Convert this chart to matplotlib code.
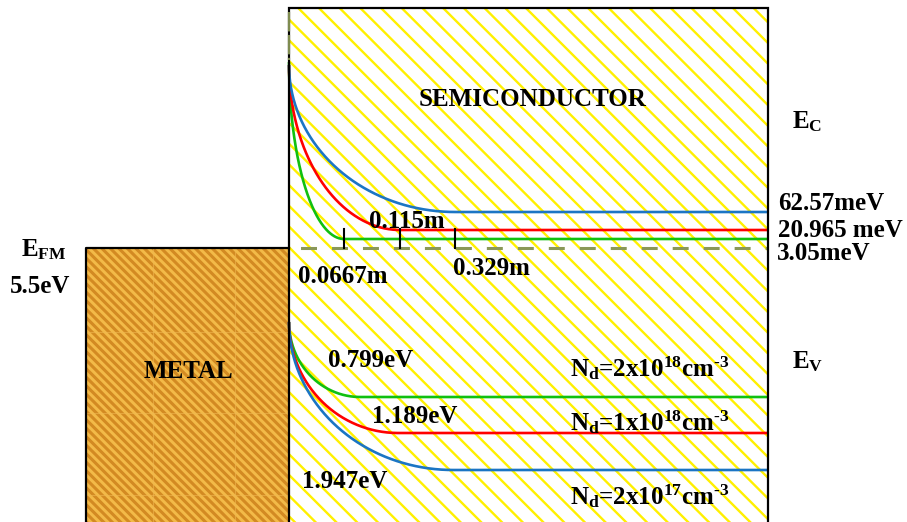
import numpy as np
import matplotlib
matplotlib.use("Agg")
import matplotlib.pyplot as plt
from matplotlib.patches import Rectangle
from matplotlib.collections import LineCollection

plt.rcParams['font.family'] = ['Liberation Serif', 'DejaVu Serif']
plt.rcParams['font.weight'] = 'bold'
plt.rcParams['mathtext.fontset'] = 'custom'
plt.rcParams['mathtext.rm'] = 'Liberation Serif:bold'
plt.rcParams['mathtext.it'] = 'Liberation Serif:bold'
plt.rcParams['mathtext.bf'] = 'Liberation Serif:bold'
plt.rcParams['lines.scale_dashes'] = False

# ---- layout of the schematic (diagram units, y grows downward) ----
interface_x = 289
semi_right = 768
semi_top = 8
metal_left = 86
fermi_level = 248          # E_FM of metal / Fermi level line

# ---- data: three doping levels ----
doping_labels = ['N$_{\\mathrm{d}}$=2x10$^{\\mathrm{18}}$cm$^{\\mathrm{\u20103}}$',
                 'N$_{\\mathrm{d}}$=1x10$^{\\mathrm{18}}$cm$^{\\mathrm{\u20103}}$',
                 'N$_{\\mathrm{d}}$=2x10$^{\\mathrm{17}}$cm$^{\\mathrm{\u20103}}$']
colors = ['#10C010', '#FF0000', '#1B75C4']
# conduction band edge
cb_top = [62, 65, 65]
cb_flat = [239, 230, 212]
cb_end = [344, 400, 455]
cb_offset_labels = ['3.05meV', '20.965 meV', '62.57meV']
# valence band edge
vb_top = [322, 322, 322]
vb_flat = [397, 433, 470]
vb_end = [360, 398, 453]
barrier_labels = ['0.799eV', '1.189eV', '1.947eV']
# depletion widths
width_labels = ['0.0667m', '0.115m', '0.329m']

fig = plt.figure(figsize=(9.07, 5.22), dpi=100)
ax = fig.add_axes([0, 0, 1, 1])
ax.set_xlim(0, 907)
ax.set_ylim(522, 0)
ax.axis('off')

# ---- semiconductor region ----
semi = Rectangle((interface_x, semi_top), semi_right - interface_x, 600,
                 facecolor='white', edgecolor='none', zorder=1)
ax.add_patch(semi)
cs = np.arange(-580 - 20.7 * 30, 600, 20.7)
segs = [[(interface_x, interface_x + c), (semi_right, semi_right + c)] for c in cs]
lc = LineCollection(segs, colors='#FFF000', linewidths=1.7, zorder=2)
ax.add_collection(lc)
lc.set_clip_path(semi)

# ---- metal region ----
metal = Rectangle((metal_left, fermi_level), interface_x - metal_left, 400,
                  facecolor='#F3BA48', edgecolor='none', zorder=1)
ax.add_patch(metal)
cm = np.arange(-100, 520, 8.5)
msegs = [[(metal_left, metal_left + c), (interface_x, interface_x + c)] for c in cm]
mlc = LineCollection(msegs, colors='#D38A22', linewidths=2.2, zorder=2)
ax.add_collection(mlc)
mlc.set_clip_path(metal)
for gx in [153, 235]:
    ax.plot([gx, gx], [fermi_level, 522], color='#F0B850', lw=0.8, alpha=0.6, zorder=2)
for gy in [332, 413, 495]:
    ax.plot([metal_left, interface_x], [gy, gy], color='#F0B850', lw=0.8, alpha=0.6, zorder=2)

# ---- borders ----
ax.plot([metal_left, metal_left, interface_x], [530, fermi_level, fermi_level],
        color='black', lw=1.6, zorder=6, solid_capstyle='projecting')
ax.plot([interface_x, interface_x, semi_right, semi_right],
        [530, semi_top, semi_top, 530], color='black', lw=1.6, zorder=6,
        solid_joinstyle='miter')
ax.plot([interface_x, interface_x], [semi_top + 4, 60], color='#7F8C50', lw=1.6,
        dashes=(14, 2.5), zorder=7)

# ---- Fermi level dashed line ----
ax.plot([interface_x, semi_right], [fermi_level, fermi_level], color='#8A9858',
        lw=2.2, linestyle=(14.0, (11.5, 10.8)), zorder=3)

# ---- band edges (quarter-ellipse bending then flat) ----
theta = np.linspace(0, np.pi / 2, 200)
for i in range(3):
    for top, flat, end in [(cb_top[i], cb_flat[i], cb_end[i]),
                           (vb_top[i], vb_flat[i], vb_end[i])]:
        w = end - interface_x
        xs = interface_x + w * (1 - np.cos(theta))
        ys = top + (flat - top) * np.sin(theta)
        xs = np.append(xs, semi_right)
        ys = np.append(ys, flat)
        ax.plot(xs, ys, color=colors[i], lw=1.9, zorder=4, solid_capstyle='butt')

# depletion-width ticks
for xe in cb_end:
    ax.plot([xe, xe], [229, fermi_level], color='black', lw=1.5, zorder=5)

fs = 18
kw = dict(fontsize=fs, fontweight='bold', color='black', zorder=8)
ax.text(533, 100, 'SEMICONDUCTOR', ha='center', va='center', **kw)
ax.text(188, 372, 'METAL', ha='center', va='center', **kw)
ax.text(44, 256, r'$\mathrm{E_{FM}}$', ha='center', va='baseline', **kw)
ax.text(40, 293, '5.5eV', ha='center', va='baseline', **kw)
ax.text(792, 128, r'$\mathrm{E_C}$', ha='left', va='baseline', **kw)
ax.text(792, 368, r'$\mathrm{E_V}$', ha='left', va='baseline', **kw)

# conduction band offsets (right side)
for lab, yb, xl in zip(cb_offset_labels, [260, 237, 210], [777, 778, 778]):
    ax.text(xl, yb, lab, ha='left', va='baseline', **kw)

# depletion widths
for lab, (xl, yb) in zip(width_labels, [(298, 283), (369, 228), (453, 275)]):
    ax.text(xl, yb, lab, ha='left', va='baseline', **kw)

# barrier heights
for lab, (xl, yb) in zip(barrier_labels, [(328, 367), (372, 423), (302, 488)]):
    ax.text(xl, yb, lab, ha='left', va='baseline', **kw)

# doping labels
for lab, yb in zip(doping_labels, [376, 430, 504]):
    ax.text(570, yb, lab, ha='left', va='baseline', **kw)

fig.savefig('out.png', dpi=100)
